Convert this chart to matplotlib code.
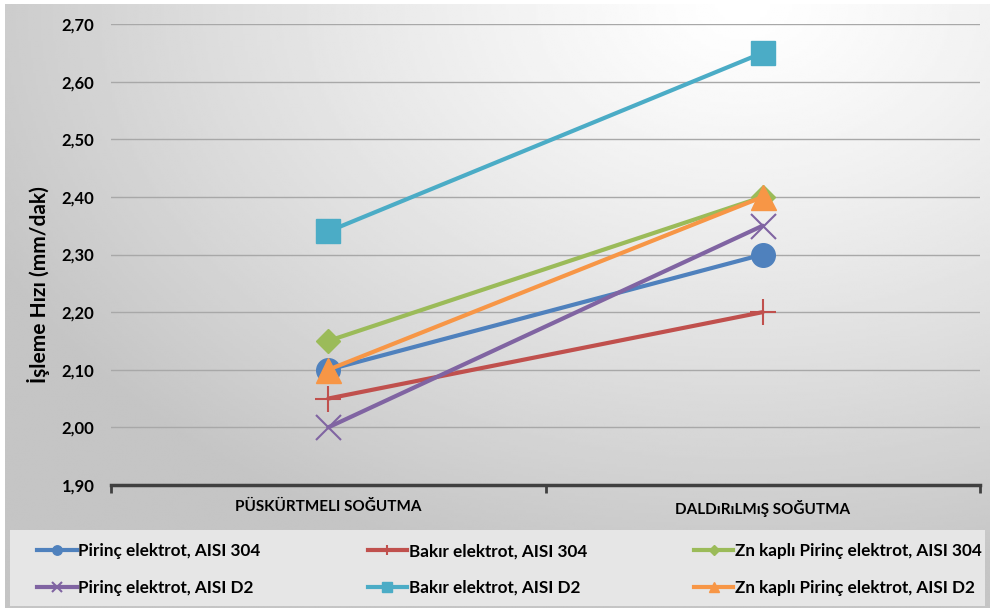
import numpy as np
import matplotlib.pyplot as plt
from matplotlib.lines import Line2D

plt.rcParams['font.family'] = ['Lato', 'DejaVu Sans']
plt.rcParams['font.weight'] = 'bold'

categories = ['PÜSKÜRTMELI SOĞUTMA', 'DALDıRıLMıŞ SOĞUTMA']

pirinc_304 = [2.10, 2.30]
bakir_304 = [2.05, 2.20]
zn_pirinc_304 = [2.15, 2.40]
pirinc_d2 = [2.00, 2.35]
bakir_d2 = [2.34, 2.65]
zn_pirinc_d2 = [2.10, 2.40]

yticks = [1.90, 2.00, 2.10, 2.20, 2.30, 2.40, 2.50, 2.60, 2.70]

series = [
    ('Pirinç elektrot, AISI 304', pirinc_304, '#4F81BD', 'o', 17, 1),
    ('Bakır elektrot, AISI 304', bakir_304, '#C0504D', '+', 19, 1.5),
    ('Zn kaplı Pirinç elektrot, AISI 304', zn_pirinc_304, '#9BBB59', 'D', 12.5, 1),
    ('Pirinç elektrot, AISI D2', pirinc_d2, '#8064A2', 'x', 18, 1.5),
    ('Bakır elektrot, AISI D2', bakir_d2, '#4BACC6', 's', 17, 1),
    ('Zn kaplı Pirinç elektrot, AISI D2', zn_pirinc_d2, '#F79646', '^', 18, 1),
]

fig = plt.figure(figsize=(9.93, 6.12), dpi=100)
fig.patch.set_facecolor('white')

# gradient backdrop for the whole chart area
bg = fig.add_axes([5 / 993, 4 / 612, 985 / 993, 604 / 612])
bg.set_zorder(-10)
xx, yy = np.meshgrid(np.linspace(0, 1, 400), np.linspace(0, 1, 250))
d = np.sqrt(((xx - 0.75) / 1.0) ** 2 + ((yy - 0.0) / 1.15) ** 2)
shade = 1.0 - 0.23 * np.clip(d / 0.85, 0, 1) ** 1.2
bg.imshow(shade, cmap='gray', vmin=0, vmax=1, aspect='auto',
          extent=[0, 1, 1, 0], interpolation='bilinear')
bg.axis('off')

ax = fig.add_axes([111 / 993, 127 / 612, 869 / 993, 461 / 612])
ax.patch.set_alpha(0)

x = np.arange(len(categories)) + 0.5
for label, vals, color, marker, ms, mew in series:
    ax.plot(x, vals, color=color, lw=3, marker=marker, markersize=ms,
            markeredgewidth=mew, markeredgecolor=color, label=label,
            solid_capstyle='round')

ax.set_xlim(0, 2)
ax.set_ylim(1.90, 2.70)
ax.set_yticks(yticks)
ax.set_yticklabels([f'{v:.2f}'.replace('.', ',') for v in yticks],
                   fontsize=12, fontweight='bold')
ax.tick_params(axis='y', length=0, pad=12)
ax.set_xticks([0, 1, 2])
ax.set_xticklabels([])
ax.set_xticks(x, minor=True)
ax.set_xticklabels(categories, minor=True, fontsize=11, fontweight='bold')
ax.tick_params(axis='x', which='major', length=6, width=2, color='#404040',
               direction='out')
ax.tick_params(axis='x', which='minor', length=0, pad=11)

ax.grid(axis='y', color='#a8a8a8', lw=1)
ax.set_axisbelow(True)
for s in ['top', 'right', 'left']:
    ax.spines[s].set_visible(False)
ax.spines['bottom'].set_color('#404040')
ax.spines['bottom'].set_linewidth(2.5)

ax.set_ylabel('İşleme Hızı (mm/dak)', fontsize=15, fontweight='bold')
ax.yaxis.set_label_coords(-61 / 869, (485 - 285) / 461)

# legend band along the bottom
band = plt.Rectangle((10 / 993, 6 / 612), 975 / 993, 76 / 612,
                     transform=fig.transFigure, facecolor='#e6e6e6',
                     edgecolor='none', zorder=-5)
fig.patches.append(band)

handles = []
for label, vals, color, marker, ms, mew in series:
    handles.append(Line2D([], [], color=color, lw=3, marker=marker,
                          markersize=ms * 0.4, markeredgewidth=mew,
                          markeredgecolor=color, label=label))
order = [0, 3, 1, 4, 2, 5]
leg = fig.legend([handles[i] for i in order], [series[i][0] for i in order],
                 ncol=3, loc='lower left',
                 bbox_to_anchor=(22 / 993, 1 / 612, 975 / 993, 74 / 612),
                 mode='expand', frameon=False, handlelength=2.3,
                 handletextpad=0.1, labelspacing=1.2,
                 prop={'weight': 'bold', 'size': 12.3})

fig.savefig('out.png', dpi=100)
